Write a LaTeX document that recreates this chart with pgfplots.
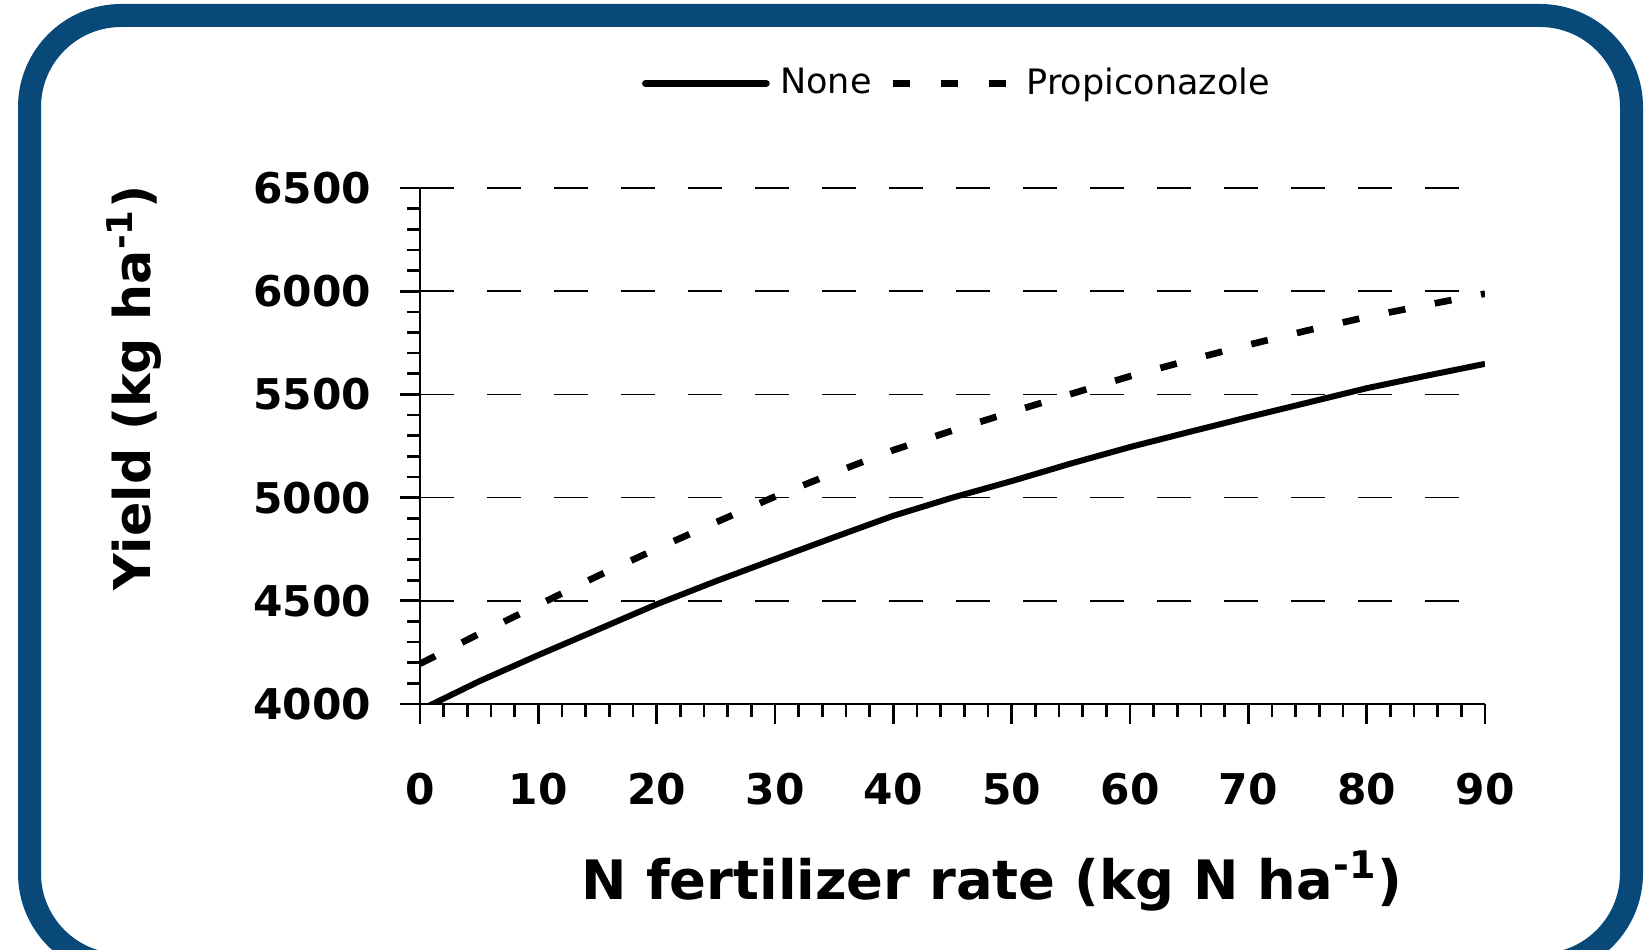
\documentclass[border=0pt]{standalone}
\usepackage{fontspec}
\setmainfont{DejaVu Sans}
\usepackage{pgfplots}
\pgfplotsset{compat=1.18}
\definecolor{frameblue}{RGB}{8,73,122}
\pgfplotstableread{
x y
0 3970
5 4110
10 4237
15 4360
20 4483
25 4595
30 4702
35 4808
40 4912
45 5000
50 5080
55 5165
60 5245
65 5318
70 5390
75 5460
80 5530
85 5590
90 5648
}\nonedata
\pgfplotstableread{
x y
0 4195
5 4340
10 4480
15 4620
20 4752
25 4880
30 5005
35 5120
40 5230
45 5325
50 5415
55 5502
60 5588
65 5666
70 5740
75 5810
80 5875
85 5933
90 5988
}\propidata
\begin{document}
\begin{tikzpicture}[x=0.3pt,y=0.3pt]
\useasboundingbox (0,0) rectangle (1645,949);
\fill[white] (0,0) rectangle (1645,949);
\draw[line width=2pt, black!12, rounded corners=28pt] (31.5,-20) rectangle (1636.5,931.5);
\draw[line width=6.9pt, frameblue, rounded corners=27.5pt] (29.5,-16) rectangle (1631.5,933.5);
\begin{axis}[
 at={(126pt,73.5pt)}, anchor=south west, scale only axis,
 width=319.5pt, height=154.8pt,
 xmin=0, xmax=90, ymin=4000, ymax=6500,
 axis x line*=bottom, axis y line*=left,
 axis line style={-, line width=0.8pt, black},
 xtick={0,10,...,90}, ytick={4000,4500,...,6500},
 minor x tick num=4, minor y tick num=4,
 tick align=outside,
 major tick length=6pt, minor tick length=3.9pt,
 every tick/.style={black, line width=0.8pt},
 ymajorgrids=true,
 major grid style={black, line width=0.45pt, dash pattern=on 10.2pt off 9.9pt},
 /pgf/number format/assume math mode=true,
 /pgf/number format/1000 sep={},
 ticklabel style={font=\bfseries\fontsize{12.7}{14}\selectfont},
 xticklabel style={anchor=north, inner sep=0pt, yshift=-14.4pt},
 yticklabel style={anchor=east, inner sep=0pt, xshift=-8.4pt},
 xlabel={N fertilizer rate (kg N ha\textsuperscript{-1})},
 ylabel={Yield (kg ha\textsuperscript{-1})},
 xlabel style={at={(axis description cs:0.537,-0.378)}, anchor=base, inner sep=0pt, font=\bfseries\fontsize{16.3}{20}\selectfont},
 ylabel style={at={(axis description cs:-0.2535,0.612)}, anchor=base, inner sep=0pt, font=\bfseries\fontsize{15.2}{18}\selectfont},
 legend columns=-1,
 legend style={draw=none, fill=none, inner sep=0pt, outer sep=0pt,
   at={(axis description cs:0.2085,1.203)}, anchor=west,
   font=\fontsize{10.5}{12}\selectfont,
   /tikz/every even column/.append style={column sep=3.35pt}},
]
\addplot[black, line width=1.8pt, line join=round,
  legend image code/.code={\draw[black, line width=2pt, line cap=round] (0pt,0pt) -- (36.3pt,0pt); \path (37.6pt,0pt);}]
  table[x=x, y=y] {\nonedata};
\addlegendentry{None}
\addplot[black, line width=2pt, dash pattern=on 5.1pt off 9pt,
  legend image code/.code={\draw[black, line width=2pt, dash pattern=on 5.1pt off 9.3pt] (0pt,0pt) -- (33.9pt,0pt); \path (37.2pt,0pt);}]
  table[x=x, y=y] {\propidata};
\addlegendentry{Propiconazole}
\end{axis}
\end{tikzpicture}
\end{document}
